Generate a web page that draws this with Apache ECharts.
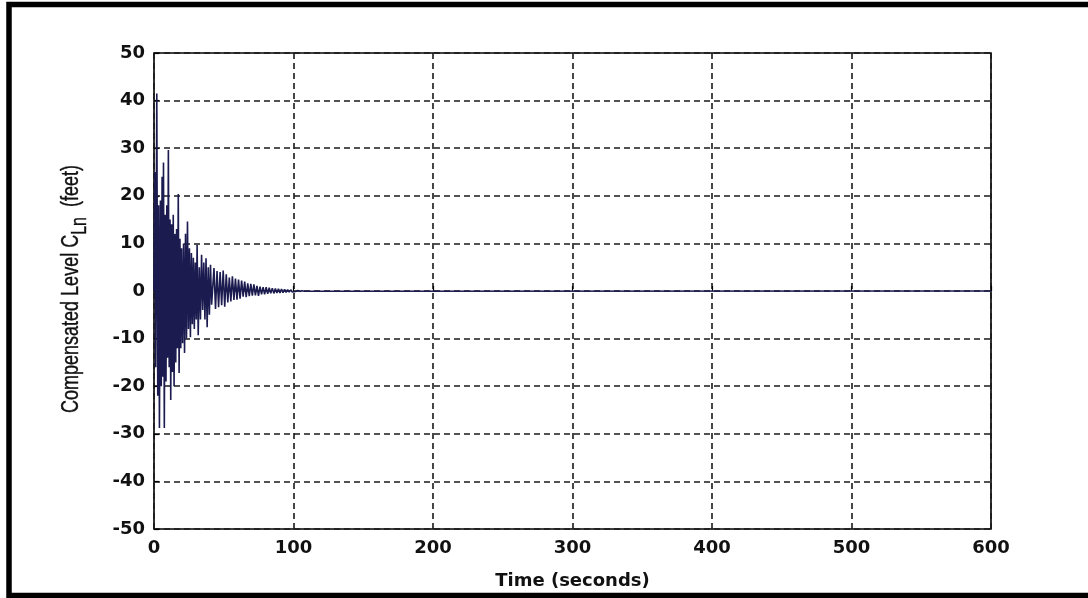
<!DOCTYPE html>
<html>
<head>
<meta charset="utf-8">
<script src="https://cdn.jsdelivr.net/npm/echarts@6/dist/echarts.min.js"></script>
<style>
  html, body { margin: 0; padding: 0; background: #fff; }
  #chart { width: 1088px; height: 598px; }
</style>
</head>
<body>
<div id="chart"></div>
<script>
// Time (s) of each swing extreme of the compensated level response
const times = [0, 0.6, 1.2, 2.0, 2.7, 3.3, 3.9, 4.6, 5.2, 5.8, 6.3, 6.8, 7.4, 8.0, 8.6, 9.2, 9.7, 10.3,
  10.9, 11.5, 12.0, 12.6, 13.2, 13.8, 14.4, 15.0, 15.6, 16.2, 16.8, 17.4, 18.0, 18.6, 19.2, 19.8,
  20.5, 21.2, 21.9, 22.6, 23.3, 24.0, 24.7, 25.4, 26.1, 26.8, 27.5, 28.2, 28.9, 29.6, 30.3, 30.9,
  31.7, 32.5, 33.3, 34.1, 34.9, 35.7, 36.5, 37.3, 38.1, 38.9, 39.7, 40.5, 41.3,
  43, 44.1, 45.2, 46.3, 47.4, 48.5, 49.6, 50.7, 51.8, 52.9, 54, 55.1, 56.2, 57.3, 58.4, 59.5, 60.6,
  61.7, 62.8, 63.9, 65, 66.1, 67.2, 68.3, 69.4, 70.5, 71.6, 72.7, 73.8, 74.9, 76, 77.1, 78.2, 79.3,
  80.4, 81.5, 82.6, 83.7, 84.8, 85.9, 87, 88.1, 89.2, 90.3, 91.4, 92.5, 93.6, 94.7, 95.8, 96.9, 98,
  99.1, 100.2, 101.5, 103, 104.5, 106, 108, 600];
// Compensated level C_Ln (feet) at those times
const levels = [0, 25, -16, 41.5, -22, 18, -28.8, 19, -20, 24, -18, 27, -28.8, 16, -19, 18, -14, 29.6,
  -16, 15, -22.9, 14, -17, 16, -20, 12, -15, 13, -12, 20.4, -17.2, 11, -12, 9,
  -11, 10, -13, 12, -10, 14.6, -8, 9, -9.7, 8, -7, 7, -8, 6, -6, 9.7,
  -9.3, 5, -6, 7.6, -4, 6, -6, 6.9, -7.6, 5, -5, 5.5, -2.9,
  4.8, -3.8, 4.2, -3.4, 4.0, -3.0, 4.3, -3.3, 3.5, -2.4, 2.8, -2.2, 3.1, -1.9, 2.6, -1.8, 2.4,
  -1.6, 2.2, -1.2, 2.0, -1.3, 1.6, -1.1, 1.5, -1.0, 1.4, -0.9, 1.1, -1.0, 0.9, -0.7, 0.8, -0.7,
  0.8, -0.6, 0.7, -0.5, 0.6, -0.5, 0.5, -0.4, 0.45, -0.4, 0.4, -0.35, 0.35, -0.3, 0.3, -0.25, 0.25,
  -0.2, 0.15, -0.1, 0.1, -0.08, 0.06, -0.04, 0, 0];
const xTicks = { min: 0, max: 600, step: 100 };
const yTicks = { min: -50, max: 50, step: 10 };

const series = times.map((t, i) => [t, levels[i]]);

const chart = echarts.init(document.getElementById('chart'), null, { renderer: 'canvas' });
const labelFont = { color: '#111', fontFamily: 'DejaVu Sans', fontWeight: 'bold', fontSize: 18 };
const gridLine = { show: true, lineStyle: { color: '#1a1a1a', width: 1.6, type: [6, 4] } };

chart.setOption({
  backgroundColor: '#fff',
  animation: false,
  grid: { left: 154, right: 97, top: 53, bottom: 69, show: true, borderColor: '#000', borderWidth: 1.6 },
  xAxis: {
    type: 'value', min: xTicks.min, max: xTicks.max, interval: xTicks.step,
    name: 'Time (seconds)', nameLocation: 'middle', nameGap: 43,
    nameTextStyle: labelFont,
    axisLine: { show: false },
    axisTick: { show: true, inside: true, length: 5, lineStyle: { color: '#000', width: 1.2 } },
    axisLabel: Object.assign({ margin: 10 }, labelFont),
    splitLine: gridLine
  },
  yAxis: {
    type: 'value', min: yTicks.min, max: yTicks.max, interval: yTicks.step,
    axisLine: { show: false },
    axisTick: { show: true, inside: true, length: 5, lineStyle: { color: '#000', width: 1.2 } },
    axisLabel: Object.assign({ margin: 9 }, labelFont),
    splitLine: gridLine
  },
  graphic: [
    {
      type: 'rect', silent: true, z: 100,
      shape: { x: 9, y: 4.5, width: 1200, height: 591 },
      style: { fill: 'none', stroke: '#000', lineWidth: 5.5 }
    },
    {
      type: 'text', silent: true, z: 100,
      x: 71, y: 289, rotation: Math.PI / 2, scaleY: 1.35,
      style: {
        text: '{m|Compensated Level C}{s|Ln}{m|  (feet)}',
        align: 'center', verticalAlign: 'middle',
        rich: {
          m: { fontFamily: 'Liberation Sans', fontSize: 18, fill: '#111', stroke: '#111', lineWidth: 0.3 },
          s: { fontFamily: 'Liberation Sans', fontSize: 16, fill: '#111', stroke: '#111', lineWidth: 0.3, padding: [13, 0, 0, 0] }
        }
      }
    }
  ],
  series: [{
    type: 'line', data: series, symbol: 'none', smooth: false,
    lineStyle: { color: '#1b1b4f', width: 1.6 },
    z: 5
  }]
});
</script>
</body>
</html>
